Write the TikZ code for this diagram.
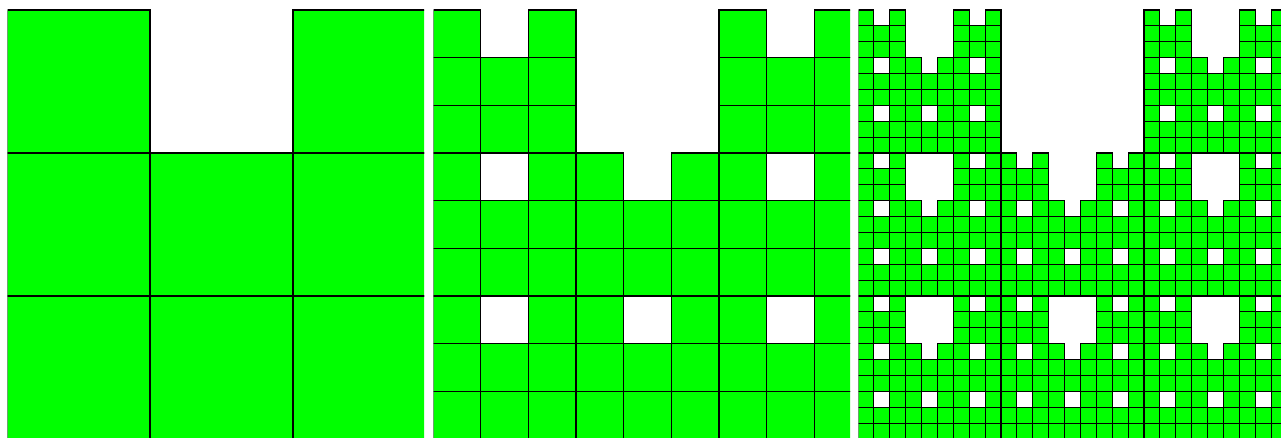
\documentclass[tikz,border=0pt]{standalone}
\usepackage{tikz}
\usepackage{xcolor}
\definecolor{fractalGreen}{RGB}{0,255,0}
\tikzset{
  cellfill/.style={fill=fractalGreen},
  celledge/.style={draw=black,line width=0.6pt},
}
% #1 left edge, #2 cell size, #3 last index, #4 clip right
\newcommand{\fractalpanel}[4]{%
  \begin{scope}
    \clip (#1+0.7,8) rectangle (#4,438);
    \foreach \i in {0,...,#3}{
      \foreach \j in {0,...,#3}{
        \pgfmathtruncatemacro\hole{(mod(\i,3)==1 && mod(\j,3)==0) || (mod(int(\i/3),3)==1 && mod(int(\j/3),3)==0) || (mod(int(\i/9),3)==1 && mod(int(\j/9),3)==0)}
        \ifnum\hole=0 \fill[cellfill] ({#1+\i*#2},{10+\j*#2}) rectangle ++(#2,#2);\fi
      }
    }
    \foreach \i in {0,...,#3}{
      \foreach \j in {0,...,#3}{
        \pgfmathtruncatemacro\hole{(mod(\i,3)==1 && mod(\j,3)==0) || (mod(int(\i/3),3)==1 && mod(int(\j/3),3)==0) || (mod(int(\i/9),3)==1 && mod(int(\j/9),3)==0)}
        \ifnum\hole=0 \draw[celledge] ({#1+\i*#2},{10+\j*#2}) rectangle ++(#2,#2);\fi
      }
    }
  \end{scope}
}

\begin{document}
\begin{tikzpicture}[x=0.02cm,y=-0.02cm]
\path[use as bounding box] (0,0) rectangle (1281,438);

% level 1
\fractalpanel{7}{143}{2}{424}
% level 2
\fractalpanel{433}{47.667}{8}{850}
% level 3
\fractalpanel{858}{15.889}{26}{1281}
\end{tikzpicture}
\end{document}
